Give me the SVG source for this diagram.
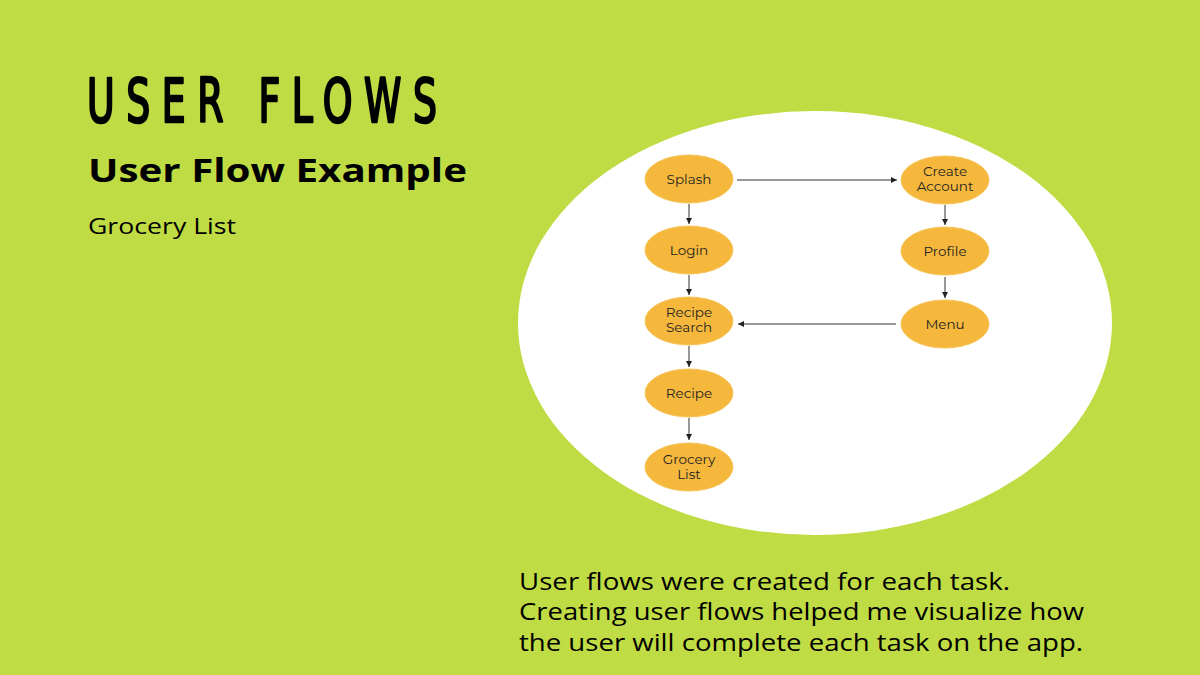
<svg xmlns="http://www.w3.org/2000/svg" width="1200" height="675" viewBox="0 0 1200 675">
<style>
.node ellipse{fill:#f5b83d;stroke:#f7c45a;stroke-width:1}
.node text{font-family:"Montserrat","Open Sans","Liberation Sans",sans-serif;font-size:13.5px;fill:#222;text-anchor:middle}
.conn line{stroke:#333;stroke-width:1}
.body{font-family:"Open Sans","Liberation Sans",sans-serif;fill:#000}
</style>
<defs>
<marker id="ah" markerWidth="8" markerHeight="8" refX="6" refY="3" orient="auto" markerUnits="userSpaceOnUse">
<path d="M0,0 L6,3 L0,6 Z" fill="#222"/>
</marker>
</defs>
<rect width="1200" height="675" fill="#c0dc44"/>
<g transform="translate(87,122) scale(0.7,1)">
<text x="0" y="0" font-size="60" textLength="500" lengthAdjust="spacing" fill="#000" stroke="#000" stroke-width="2.5" stroke-linejoin="round" style="font-family:'DejaVu Sans Condensed','DejaVu Sans',sans-serif">USER FLOWS</text>
</g>
<text x="88" y="182" class="body" font-size="33" font-weight="bold" textLength="379" lengthAdjust="spacingAndGlyphs">User Flow Example</text>
<text x="88" y="234" class="body" font-size="22" textLength="148" lengthAdjust="spacingAndGlyphs">Grocery List</text>
<ellipse cx="815" cy="323" rx="297" ry="212" fill="#fff"/>
<g class="conn">
<line x1="737" y1="180" x2="897" y2="180" marker-end="url(#ah)"/>
<line x1="689" y1="204" x2="689" y2="224" marker-end="url(#ah)"/>
<line x1="689" y1="275" x2="689" y2="295" marker-end="url(#ah)"/>
<line x1="689" y1="346" x2="689" y2="367" marker-end="url(#ah)"/>
<line x1="689" y1="418" x2="689" y2="440" marker-end="url(#ah)"/>
<line x1="945" y1="205" x2="945" y2="225" marker-end="url(#ah)"/>
<line x1="945" y1="277" x2="945" y2="298" marker-end="url(#ah)"/>
<line x1="896" y1="324" x2="738" y2="324" marker-end="url(#ah)"/>
</g>
<g id="splash" class="node"><ellipse cx="689" cy="179" rx="44" ry="24"/><text x="689" y="184">Splash</text></g>
<g id="login" class="node"><ellipse cx="689" cy="250" rx="44" ry="24"/><text x="689" y="255">Login</text></g>
<g id="recipe-search" class="node"><ellipse cx="689" cy="321" rx="44" ry="24"/><text x="689" y="317">Recipe</text><text x="689" y="332">Search</text></g>
<g id="recipe" class="node"><ellipse cx="689" cy="393" rx="44" ry="24"/><text x="689" y="398">Recipe</text></g>
<g id="grocery-list" class="node"><ellipse cx="689" cy="467" rx="44" ry="24"/><text x="689" y="464">Grocery</text><text x="689" y="479">List</text></g>
<g id="create-account" class="node"><ellipse cx="945" cy="180" rx="44" ry="24"/><text x="945" y="176">Create</text><text x="945" y="191">Account</text></g>
<g id="profile" class="node"><ellipse cx="945" cy="251" rx="44" ry="24"/><text x="945" y="256">Profile</text></g>
<g id="menu" class="node"><ellipse cx="945" cy="324" rx="44" ry="24"/><text x="945" y="329">Menu</text></g>
<text x="519" y="590" class="body" font-size="24" textLength="491" lengthAdjust="spacingAndGlyphs">User flows were created for each task.</text>
<text x="519" y="620" class="body" font-size="24" textLength="565" lengthAdjust="spacingAndGlyphs">Creating user flows helped me visualize how</text>
<text x="519" y="651" class="body" font-size="24" textLength="564" lengthAdjust="spacingAndGlyphs">the user will complete each task on the app.</text>
</svg>
